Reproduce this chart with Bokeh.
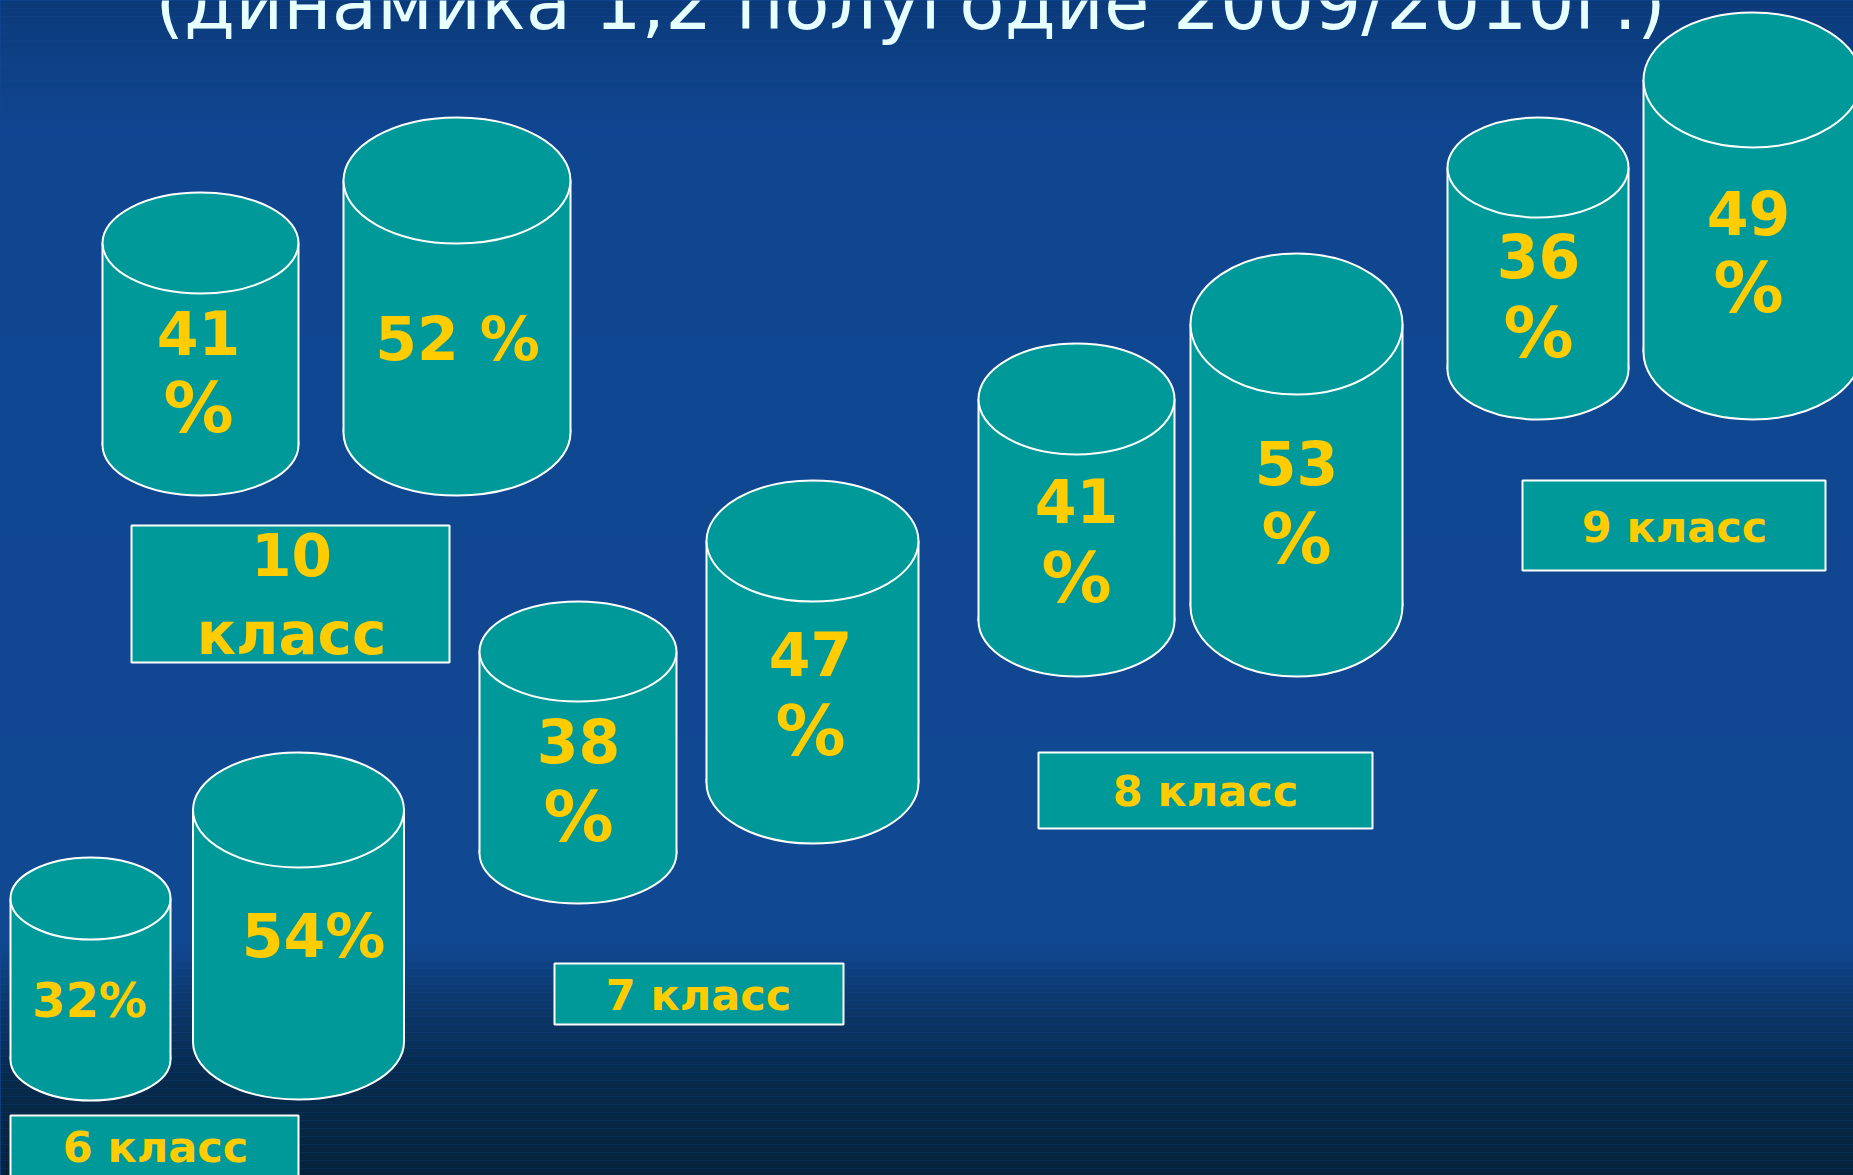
from bokeh.plotting import figure
from bokeh.models import ColumnDataSource, Range1d, GlobalInlineStyleSheet
from bokeh.core.properties import value
from bokeh.embed import file_html
from bokeh.resources import INLINE

# ---------------- data ----------------
title = "(динамика 1,2 полугодие 2009/2010г.)"
classes = ["6 класс", "7 класс", "8 класс", "9 класс", "10 класс"]
half1 = [32, 38, 41, 36, 41]          # 1 полугодие
half2 = [54, 47, 53, 49, 52]          # 2 полугодие
# how each value is written on its cylinder: "%" after, on a new line, or after a space
fmt1 = ["{}%", "{}\n%", "{}\n%", "{}\n%", "{}\n%"]
fmt2 = ["{}%", "{}\n%", "{}\n%", "{}\n%", "{} %"]
class_text = ["6 класс", "7 класс", "8 класс", "9 класс", "10\nкласс"]

# ---------------- layout (pixel positions of the slide) ----------------
# cylinder: centre x, width, top-ellipse centre y, ellipse height, bottom-ellipse centre y
cyl1 = [(90, 160, 898, 82, 1059), (577.5, 197, 651, 100, 853), (1076, 196, 398.5, 111, 620.5),
        (1537.5, 181, 167, 100, 369), (200, 196, 242.5, 101, 444.5)]
cyl2 = [(298, 211, 809.5, 115, 1041.5), (812, 212, 540.5, 121, 782.5), (1296, 212, 323.5, 141, 605.5),
        (1752, 218, 79.5, 135, 351.5), (456.5, 227, 180, 126, 432)]
# value text: x, centre y of first line, line spacing, font px
txt1 = [(89, 999, 0, 48), (578, 740, 76, 60), (1076, 500, 77, 60), (1538, 255, 77, 60), (198, 332, 75, 60)]
txt2 = [(313, 935, 0, 60), (810, 653, 77, 60), (1296, 462, 76, 60), (1748, 212, 75, 60), (457, 338, 0, 60)]
PCT_SIZE = 70   # the lone "%" line is drawn a little larger, as on the slide
# class boxes: left, right, top, bottom, text x, text centre y, line spacing, font px
boxes = [(10, 298, 1115, 1190, 155, 1146, 0, 43), (554, 843, 963, 1024, 698, 994, 0, 43),
         (1038, 1372, 752, 828, 1205, 790, 0, 43), (1522, 1825, 480, 570, 1674, 526, 0, 43),
         (131, 449, 525, 662, 291, 554, 79, 58)]

TEAL = "#009999"
YELLOW = "#FFCC00"
WHITE = "#FFFFFF"
FONT = value("DejaVu Sans")

W, H = 1853, 1175
p = figure(width=W, height=H, output_backend="svg", toolbar_location=None,
           x_range=Range1d(0, W), y_range=Range1d(H, 0), min_border=0)
p.axis.visible = False
p.grid.visible = False
p.outline_line_color = None
p.background_fill_color = "#124a94"
p.border_fill_color = "#124a94"
p.stylesheets = [GlobalInlineStyleSheet(
    css="html, body { background: #0f448c; margin: 0; padding: 0; overflow: hidden; }")]

# ---------------- background gradient (style only) ----------------
stops = [(0, (11, 58, 122)), (130, (16, 70, 144)), (940, (17, 72, 146)), (1010, (11, 54, 104)),
         (1080, (7, 42, 76)), (1175, (5, 34, 58))]
bl, br, bt, bb, bc = [], [], [], [], []
step = 8
for yy in range(0, H, step):
    ym = yy + step / 2
    for (y0, c0), (y1, c1) in zip(stops[:-1], stops[1:]):
        if y0 <= ym <= y1:
            t = (ym - y0) / (y1 - y0)
            c = tuple(int(round(a + (b - a) * t)) for a, b in zip(c0, c1))
            break
    bl.append(0); br.append(W); bt.append(yy); bb.append(yy + step)
    bc.append("#%02x%02x%02x" % c)
p.quad(left=bl, right=br, top=bt, bottom=bb, fill_color=bc, line_color=None)

# ---------------- title (cut at the top of the slide) ----------------
p.text(x=[910], y=[2], text=[title], text_font=FONT, text_font_size="74px",
       text_color="#E6FFFF", text_align="center", text_baseline="middle")

# ---------------- cylinders ----------------
cyls = cyl1 + cyl2
cs = ColumnDataSource(dict(
    cx=[c[0] for c in cyls], w=[c[1] for c in cyls], ty=[c[2] for c in cyls],
    eh=[c[3] for c in cyls], by=[c[4] for c in cyls],
    left=[c[0] - c[1] / 2 for c in cyls], right=[c[0] + c[1] / 2 for c in cyls],
))
p.ellipse(x="cx", y="by", width="w", height="eh", source=cs,
          fill_color=TEAL, line_color=WHITE, line_width=2)
p.quad(left="left", right="right", top="ty", bottom="by", source=cs,
       fill_color=TEAL, line_color=None)
p.segment(x0="left", y0="ty", x1="left", y1="by", source=cs, line_color=WHITE, line_width=2)
p.segment(x0="right", y0="ty", x1="right", y1="by", source=cs, line_color=WHITE, line_width=2)
p.ellipse(x="cx", y="ty", width="w", height="eh", source=cs,
          fill_color=TEAL, line_color=WHITE, line_width=2)

# ---------------- value labels ----------------
tx, ty, tt, ts = [], [], [], []
for vals, fmts, pos in ((half1, fmt1, txt1), (half2, fmt2, txt2)):
    for v, f, (x, y, dy, fs) in zip(vals, fmts, pos):
        for i, line in enumerate(f.format(v).split("\n")):
            tx.append(x)
            ty.append(y + i * dy)
            tt.append(line)
            ts.append(f"{PCT_SIZE if line == '%' else fs}px")
vs = ColumnDataSource(dict(x=tx, y=ty, text=tt, size=ts))
p.text(x="x", y="y", text="text", text_font_size="size", source=vs, text_font=FONT,
       text_font_style="bold", text_color=YELLOW, text_align="center",
       text_baseline="middle")

# ---------------- class boxes ----------------
p.quad(left=[b[0] for b in boxes], right=[b[1] for b in boxes],
       top=[b[2] for b in boxes], bottom=[b[3] for b in boxes],
       fill_color=TEAL, line_color=WHITE, line_width=2)
lx, ly, lt, ls = [], [], [], []
for name, (l, r, t, b, x, y, dy, fs) in zip(class_text, boxes):
    for i, line in enumerate(name.split("\n")):
        lx.append(x)
        ly.append(y + i * dy)
        lt.append(line)
        ls.append(f"{fs}px")
ls_src = ColumnDataSource(dict(x=lx, y=ly, text=lt, size=ls))
p.text(x="x", y="y", text="text", text_font_size="size", source=ls_src, text_font=FONT,
       text_font_style="bold", text_color=YELLOW, text_align="center",
       text_baseline="middle")

open("out.html", "w").write(file_html(p, INLINE))
